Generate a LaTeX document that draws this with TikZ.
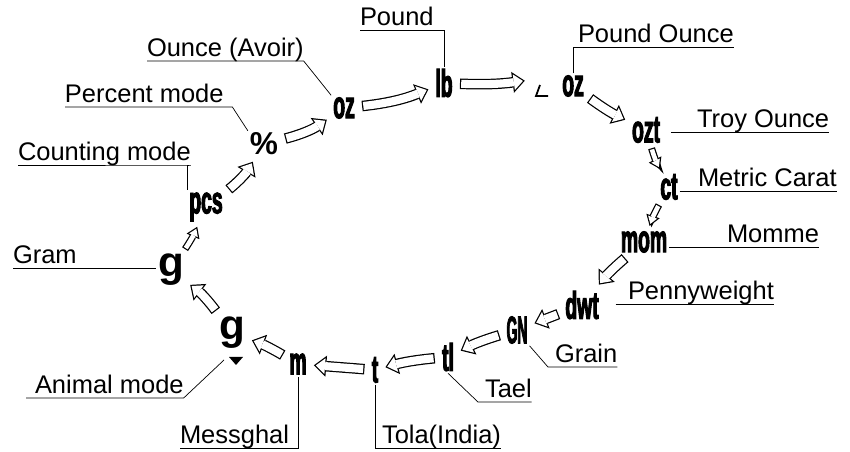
\documentclass[tikz,border=0pt]{standalone}
\usepackage{fontspec}
\setmainfont{Liberation Sans}
\newfontfamily\unitfont[FakeStretch=0.5,FakeBold=2.5]{Liberation Sans}
\usetikzlibrary{arrows.meta}

\begin{document}
\begin{tikzpicture}[x=0.02cm,y=-0.02cm,
    lbl/.style={font=\fontsize{14.5}{17}\selectfont, inner sep=0pt, outer sep=0pt, text depth=2.3pt, anchor=south west},
    unit/.style={font=\unitfont\bfseries\fontsize{22}{22}\selectfont, inner sep=1pt},
    letter/.style={font=\bfseries\fontsize{24}{24}\selectfont, inner sep=1pt},
    hollow/.style={line width=6pt, -{Triangle[width=12pt,length=7pt,line width=0pt]}, shorten <=3pt, shorten >=3pt,
      postaction={draw=white, line width=4.6pt, shorten <=3.7pt, shorten >=4.08pt, -{Triangle[width=8.95pt,length=5.22pt,line width=0pt]}}},
    slim/.style={line width=4pt, -{Triangle[width=8pt,length=6pt,line width=0pt]}, shorten <=2pt, shorten >=2pt,
      postaction={draw=white, line width=2.6pt, shorten <=2.7pt, shorten >=3.26pt, -{Triangle[width=5.39pt,length=4.04pt,line width=0pt]}}}]

    \useasboundingbox (0,0) rectangle (850,452);

    % units round the loop
    \node[unit] (oza) at (344,108) {oz};
    \node[unit] (lb) at (444,83) {lb};
    \node[unit] (ozp) at (573,86) {oz};
    \node[unit] (ozt) at (646,130) {ozt};
    \node[unit] (ct) at (669,187) {ct};
    \node[unit] (mom) at (644,242) {mom};
    \node[unit] (dwt) at (582,305) {dwt};
    \node[unit] (gn) at (517,330) {\scalebox{0.72}[1]{GN}};
    \node[unit] (tl) at (448,357) {tl};
    \node[unit] (tola) at (375,370) {t};
    \node[unit] (mes) at (298,364) {m};
    \node[letter] (ga) at (232,333) {g};
    \node[letter] (gg) at (171,270) {g};
    \node[unit] (pcs) at (206,207) {pcs};
    \node[letter, font=\bfseries\fontsize{18}{18}\selectfont] (pct) at (264,144) {\%};

    % animal mark and the little corner before oz
    \fill (229,357) -- (243,357) -- (236,365) -- cycle;
    \coordinate (tri) at (224,360);
    \draw[line width=1pt] (540,85) -- (536,96) -- (548,96);
    \coordinate (lbend) at (530,80);

    % labels
    \node[lbl] (oavl) at (147,61) {Ounce (Avoir)};
    \node[lbl] (pml) at (65,107) {Percent mode};
    \node[lbl] (cml) at (18,165) {Counting mode};
    \node[lbl] (gml) at (13,268) {Gram};
    \node[lbl] (aml) at (35,398) {Animal mode};
    \node[lbl] (msl) at (180,448) {Messghal};
    \node[lbl] (tll) at (382,448) {Tola(India)};
    \node[lbl] (tel) at (485,402) {Tael};
    \node[lbl] (gnl) at (555,367) {Grain};
    \node[lbl] (pwl) at (628,304) {Pennyweight};
    \node[lbl] (mml) at (727,247) {Momme};
    \node[lbl] (mcl) at (698,191) {Metric Carat};
    \node[lbl] (trl) at (697,132) {Troy Ounce};
    \node[lbl] (pol) at (578,47) {Pound Ounce};
    \node[lbl] (pdl) at (360,30) {Pound};

    % underlines and leaders
    \draw (oavl.south west) -- (oavl.south east) -- (oza.north west);
    \draw (pml.south west) -- ([xshift=5pt]pml.south east) -- (pct.north west);
    \draw (cml.south west) -- (cml.south east) -| (pcs.north west);
    \draw (gml.south west) -- (gml.south west -| gg.west);
    \draw ([xshift=-5pt]aml.south west) -- (aml.south east) -- (tri);
    \draw (msl.south west) -| (mes.south);
    \draw (tola.south) |- (tll.south east);
    \draw (tl.south) -- ([xshift=-4pt]tel.south west) -- (tel.south east);
    \draw (gn.south east) -- ([xshift=-4pt]gnl.south west) -- (gnl.south east);
    \draw ([xshift=-7pt]pwl.south west) -- (pwl.south east);
    \draw (mom.east |- mml.south) -- (mml.south east);
    \draw (ct.east |- mcl.south) -- (mcl.south east);
    \draw ([xshift=5pt]ozt.east |- trl.south) -- (trl.south east);
    \draw (ozp.north) |- (pol.south east);
    \draw (pdl.south west) -| (lb.north);

    % block arrows
    \draw[hollow] (pcs) to[bend right=10] (pct);
    \draw[hollow] (pct) to[bend right=10] (oza);
    \draw[hollow] (oza) to[bend right=8] (lb);
    \draw[hollow] (lb) to[bend right=5] (lbend);
    \draw[hollow] (ozp) to[bend right=5] (ozt);
    \draw[slim] (ozt) to[bend right=5] (ct);
    \draw[slim] (ct) to[bend right=5] (mom);
    \draw[hollow] (mom) to[bend right=5] (dwt);
    \draw[hollow] (dwt) -- (gn);
    \draw[hollow] (gn) to[bend right=5] (tl);
    \draw[hollow] (tl) to[bend right=5] (tola);
    \draw[hollow] (tola) -- (mes);
    \draw[hollow] (mes) to[bend right=5] (ga);
    \draw[hollow] (ga) to[bend right=8] (gg);
    \draw[slim] (gg) to[bend right=5] (pcs);
\end{tikzpicture}
\end{document}
